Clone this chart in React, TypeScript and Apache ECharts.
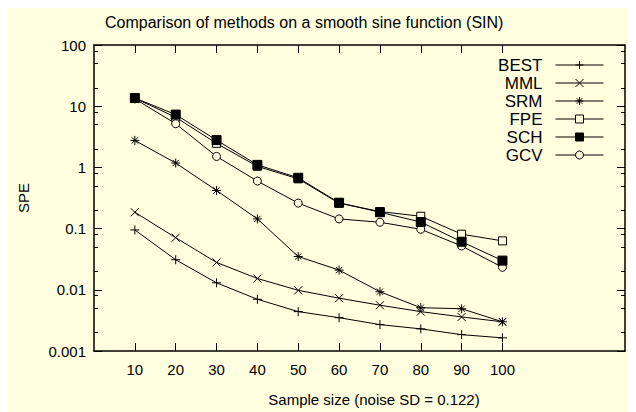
import React, { useEffect, useRef } from "react";
import * as echarts from "echarts";

const sampleSizes = [10, 20, 30, 40, 50, 60, 70, 80, 90, 100];
const BEST = [0.095, 0.031, 0.013, 0.007, 0.0044, 0.0035, 0.0027, 0.0023, 0.00185, 0.00164];
const MML = [0.185, 0.071, 0.028, 0.0153, 0.0098, 0.0073, 0.0056, 0.0044, 0.0036, 0.003];
const SRM = [2.76, 1.18, 0.42, 0.144, 0.035, 0.021, 0.0093, 0.0051, 0.0049, 0.003];
const FPE = [13.5, 6.6, 2.47, 1.04, 0.65, 0.26, 0.19, 0.159, 0.081, 0.063];
const SCH = [13.6, 7.3, 2.79, 1.1, 0.676, 0.265, 0.185, 0.128, 0.061, 0.03];
const GCV = [13.2, 5.17, 1.51, 0.598, 0.261, 0.144, 0.127, 0.0975, 0.052, 0.0233];

const yMajorTicks = [0.001, 0.01, 0.1, 1, 10, 100];
const yMajorLabels = ["0.001", "0.01", "0.1", "1", "10", "100"];
const yMinorTicks = [
  0.002, 0.005, 0.008, 0.02, 0.05, 0.08, 0.2, 0.5, 0.8, 2, 5, 8, 20, 50, 80,
];

const titleText = "Comparison of methods on a smooth sine function (SIN)";
const xName = "Sample size (noise SD = 0.122)";
const yName = "SPE";

const FONT = "'Liberation Sans', Arial, sans-serif";
const BG = "#ffffe0";
const INK = "#000";

const SYM_PLUS = "path://M0,5H10M5,0V10";
const SYM_CROSS = "path://M0,0L10,10M10,0L0,10";
const SYM_STAR = "path://M0,5H10M5,0V10M1.5,1.5L8.5,8.5M8.5,1.5L1.5,8.5";

export default function App() {
  const ref = useRef<HTMLDivElement>(null);

  useEffect(() => {
    if (!ref.current) return;
    const chart = echarts.init(ref.current, null, { renderer: "svg" });

    const mk = (
      name: string,
      vals: number[],
      symbol: string,
      size: number,
      fill: string,
      z: number
    ) => ({
      name,
      type: "line",
      xAxisIndex: 0,
      yAxisIndex: 0,
      data: sampleSizes.map((x, i) => [x, vals[i]]),
      symbol,
      symbolSize: size,
      showAllSymbol: true,
      lineStyle: { color: INK, width: 1 },
      itemStyle: { color: fill, borderColor: INK, borderWidth: 1 },
      emphasis: { disabled: true },
      silent: true,
      z,
    });

    const axisLine = { show: true, onZero: false, lineStyle: { color: INK, width: 1.5 } };
    const noLine = { show: false, onZero: false };
    const tickStyle = { color: INK, width: 1 };

    chart.setOption({
      animation: false,
      backgroundColor: BG,
      textStyle: { fontFamily: FONT },
      title: {
        text: titleText,
        left: 97,
        top: 9,
        padding: 0,
        textStyle: { fontSize: 16, fontWeight: "normal", color: INK, fontFamily: FONT },
      },
      legend: {
        orient: "vertical",
        right: 32,
        top: 51,
        padding: 0,
        itemGap: 0,
        itemWidth: 48,
        itemHeight: 10,
        align: "right",
        selectedMode: false,
        data: ["BEST", "MML", "SRM", "FPE", "SCH", "GCV"],
        lineStyle: { width: 1, color: INK },
        itemStyle: { borderWidth: 1, borderColor: INK },
        textStyle: {
          fontSize: 17,
          lineHeight: 18,
          color: INK,
          fontFamily: FONT,
          padding: [0, 8, 0, 0],
        },
      },
      grid: { left: 86, top: 40, right: 11, bottom: 57 },
      xAxis: [
        {
          type: "value",
          position: "bottom",
          min: 0,
          max: 130,
          splitLine: { show: false },
          axisLine,
          axisTick: { inside: true, length: 8, customValues: sampleSizes, lineStyle: tickStyle },
          axisLabel: {
            customValues: sampleSizes,
            margin: 11,
            fontSize: 15,
            color: INK,
            fontFamily: FONT,
          },
          name: xName,
          nameLocation: "middle",
          nameGap: 41,
          nameTextStyle: { fontSize: 15, color: INK, fontFamily: FONT, padding: [0, 0, 0, 29] },
        },
        {
          type: "value",
          position: "top",
          min: 0,
          max: 130,
          splitLine: { show: false },
          axisLine,
          axisTick: { inside: true, length: 8, customValues: sampleSizes, lineStyle: tickStyle },
          axisLabel: { show: false },
        },
      ],
      yAxis: [
        {
          type: "log",
          logBase: 10,
          position: "left",
          min: 0.001,
          max: 100,
          splitLine: { show: false },
          minorTick: { show: false },
          axisLine,
          axisTick: { inside: true, length: 8, customValues: yMajorTicks, lineStyle: tickStyle },
          axisLabel: {
            customValues: yMajorTicks,
            margin: 8,
            fontSize: 15,
            color: INK,
            fontFamily: FONT,
            formatter: (v: number) => {
              let best = 0;
              let bd = Infinity;
              yMajorTicks.forEach((t, i) => {
                const d = Math.abs(Math.log10(v) - Math.log10(t));
                if (d < bd) {
                  bd = d;
                  best = i;
                }
              });
              return yMajorLabels[best];
            },
          },
          name: yName,
          nameLocation: "middle",
          nameRotate: 90,
          nameGap: 63,
          nameTextStyle: { fontSize: 15, color: INK, fontFamily: FONT },
        },
        {
          type: "log",
          logBase: 10,
          position: "left",
          min: 0.001,
          max: 100,
          splitLine: { show: false },
          axisLine: noLine,
          axisTick: { inside: true, length: 4, customValues: yMinorTicks, lineStyle: tickStyle },
          axisLabel: { show: false },
        },
        {
          type: "log",
          logBase: 10,
          position: "right",
          min: 0.001,
          max: 100,
          splitLine: { show: false },
          axisLine,
          axisTick: { inside: true, length: 8, customValues: yMajorTicks, lineStyle: tickStyle },
          axisLabel: { show: false },
        },
        {
          type: "log",
          logBase: 10,
          position: "right",
          min: 0.001,
          max: 100,
          splitLine: { show: false },
          axisLine: noLine,
          axisTick: { inside: true, length: 4, customValues: yMinorTicks, lineStyle: tickStyle },
          axisLabel: { show: false },
        },
      ],
      series: [
        mk("BEST", BEST, SYM_PLUS, 9, INK, 2),
        mk("MML", MML, SYM_CROSS, 8, INK, 2),
        mk("SRM", SRM, SYM_STAR, 9, INK, 2),
        mk("FPE", FPE, "rect", 8, BG, 2),
        mk("GCV", GCV, "circle", 8, BG, 2),
        mk("SCH", SCH, "rect", 9, INK, 3),
      ],
    });

    return () => chart.dispose();
  }, []);

  return <div ref={ref} style={{ width: 628, height: 407, marginTop: -3 }} />;
}
